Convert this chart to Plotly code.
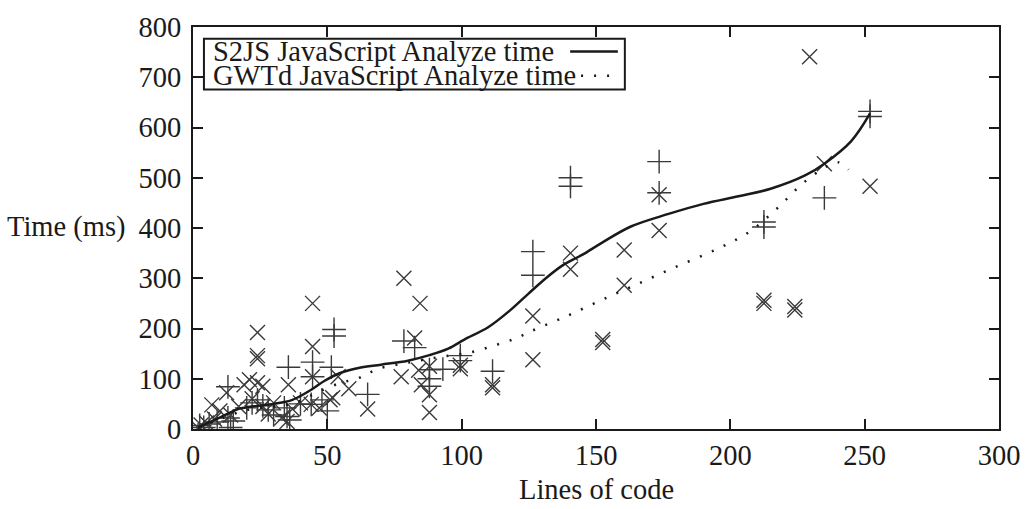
import plotly.graph_objects as go

# Measured analyze times (ms) per program size (lines of code)
s2js_loc = [2.5, 4, 6, 9, 13, 14, 15, 13, 20, 22, 24, 26, 28, 30, 34, 35, 35.5, 36, 40, 44,
            44.5, 44.5, 48, 50, 51.5, 52.5, 52.5, 65, 78.5, 82.5, 88, 88, 88, 93, 99.5, 99.5,
            111.5, 126.5, 126.5, 140.5, 140.5, 173.5, 173.5, 212.5, 212.5, 235, 252, 252]
s2js_ms = [7, 3, 10, 14, 84, 3, 16, 22, 42, 52, 58, 46, 38, 28, 42, 25, 123, 18, 50, 49,
           133, 104, 58, 36, 123, 198, 185, 69, 175, 162, 118, 100, 85, 119, 146, 136,
           115, 353, 306, 500, 483, 532, 470, 412, 402, 460, 632, 622]

gwtd_loc = [2, 3, 5, 7, 8, 10, 12.5, 14, 17, 19, 21, 22, 24, 24, 24, 24, 26, 26, 28, 30,
            33, 35.5, 35, 37, 40, 44, 44.5, 44.5, 44.5, 47, 51, 52, 54, 58, 65, 77.5, 78.5,
            82.5, 84, 84.5, 85, 88, 88, 88, 99.5, 99.5, 111.5, 111.5, 126.5, 126.5, 140.5,
            140.5, 152.5, 152.5, 160.5, 160.5, 173.5, 173.5, 212.5, 212.5, 224, 224, 229.5,
            235, 252]
gwtd_ms = [2, 8, 12, 48, 20, 36, 72, 28, 45, 88, 98, 60, 192, 146, 140, 92, 85, 45, 30, 52,
           22, 88, 15, 40, 52, 49, 250, 164, 104, 42, 58, 62, 104, 80, 40, 104, 300,
           181, 117, 250, 88, 68, 33, 125, 127, 120, 88, 82, 225, 138, 350,
           318, 178, 172, 356, 286, 466, 395, 256, 250, 244, 237, 741,
           528, 483]

# Smoothed trend curves
s2js_fit_loc = [2, 6, 12, 17, 24, 30, 37, 44, 49, 55, 62, 70, 80, 88, 95, 101, 110, 118,
                125, 132, 138, 145, 152, 163, 177, 190, 203, 215, 228, 235, 245, 252]
s2js_fit_ms = [3, 13, 28, 40, 46, 50, 58, 78, 96, 112, 122, 128, 136, 147, 160, 178, 203, 236,
               270, 303, 327, 347, 370, 403, 428, 448, 463, 478, 505, 528, 573, 628]

gwtd_fit_loc = [2, 8, 15, 22, 30, 38, 46, 55, 61, 65, 69, 78, 86, 94, 103, 112, 120, 126,
                138, 151, 164, 179, 195, 207, 217, 227, 235, 240, 244]
gwtd_fit_ms = [3, 15, 30, 40, 45, 52, 72, 92, 100, 110, 120, 130, 138, 145, 152, 166, 180, 195,
               222, 254, 285, 321, 358, 392, 437, 489, 520, 531, 516]

x_ticks = [0, 50, 100, 150, 200, 250, 300]
y_ticks = [0, 100, 200, 300, 400, 500, 600, 700, 800]

FONT = "Liberation Serif, Times New Roman, serif"
INK = "#1a1a1a"
MARK = "#3a3a3a"
TXT = 28.5

fig = go.Figure()

fig.add_trace(go.Scatter(
    x=s2js_loc, y=s2js_ms, mode="markers", showlegend=False,
    marker=dict(symbol="cross-thin", size=17, line=dict(width=1.4, color=MARK)),
))
fig.add_trace(go.Scatter(
    x=gwtd_loc, y=gwtd_ms, mode="markers", showlegend=False,
    marker=dict(symbol="x-thin", size=15, line=dict(width=1.4, color=MARK)),
))
fig.add_trace(go.Scatter(
    x=s2js_fit_loc, y=s2js_fit_ms, mode="lines", showlegend=False,
    line=dict(color=INK, width=2.5, shape="spline", smoothing=1.0),
))
fig.add_trace(go.Scatter(
    x=gwtd_fit_loc, y=gwtd_fit_ms, mode="lines", showlegend=False,
    line=dict(color=INK, width=2.5, shape="spline", dash="2px,11px"),
))

# plot area in pixels: x 193..1003, y 17..429
L, R, T, B = 193, 1003, 17, 429


def px(x):
    return (x - L) / (R - L)


def py(y):
    return (B - y) / (B - T)


shapes = [
    dict(type="rect", xref="paper", yref="paper",
         x0=px(204), x1=px(627), y0=py(81), y1=py(29),
         line=dict(color=INK, width=2), fillcolor="white", layer="above"),
    dict(type="line", xref="paper", yref="paper",
         x0=px(572), x1=px(620), y0=py(42), y1=py(42),
         line=dict(color=INK, width=2.5), layer="above"),
    dict(type="line", xref="paper", yref="paper",
         x0=px(583), x1=px(620), y0=py(67), y1=py(67),
         line=dict(color=INK, width=2.5, dash="2px,11px"), layer="above"),
]

annotations = [
    dict(text="S2JS JavaScript Analyze time", xref="paper", yref="paper",
         x=px(212), y=py(42), xanchor="left", yanchor="middle", showarrow=False,
         borderpad=0, font=dict(family=FONT, size=TXT, color=INK)),
    dict(text="GWTd JavaScript Analyze time", xref="paper", yref="paper",
         x=px(212), y=py(67), xanchor="left", yanchor="middle", showarrow=False,
         borderpad=0, font=dict(family=FONT, size=TXT, color=INK)),
    dict(text="Time (ms)", xref="paper", yref="paper",
         x=px(128), y=py(222), xanchor="right", yanchor="middle", showarrow=False,
         font=dict(family=FONT, size=TXT, color=INK)),
    dict(text="Lines of code", xref="paper", yref="paper",
         x=px(598), y=py(491), xanchor="center", yanchor="middle", showarrow=False,
         font=dict(family=FONT, size=TXT, color=INK)),
]

axis_common = dict(
    showline=True, linecolor=INK, linewidth=2, mirror="allticks",
    ticks="inside", ticklen=10, tickwidth=2, tickcolor=INK,
    showgrid=False, zeroline=False,
    tickfont=dict(family=FONT, size=TXT, color=INK),
)

fig.update_layout(
    width=1032, height=509,
    margin=dict(l=L, r=1032 - R, t=T, b=509 - B),
    paper_bgcolor="white", plot_bgcolor="white",
    xaxis=dict(range=[0, 300], tickvals=x_ticks, ticktext=[str(v) for v in x_ticks],
               **axis_common),
    yaxis=dict(range=[0, 800], tickvals=y_ticks, ticktext=[str(v) for v in y_ticks],
               ticklabelstandoff=4, **axis_common),
    shapes=shapes, annotations=annotations,
)

fig.write_html("out.html")
